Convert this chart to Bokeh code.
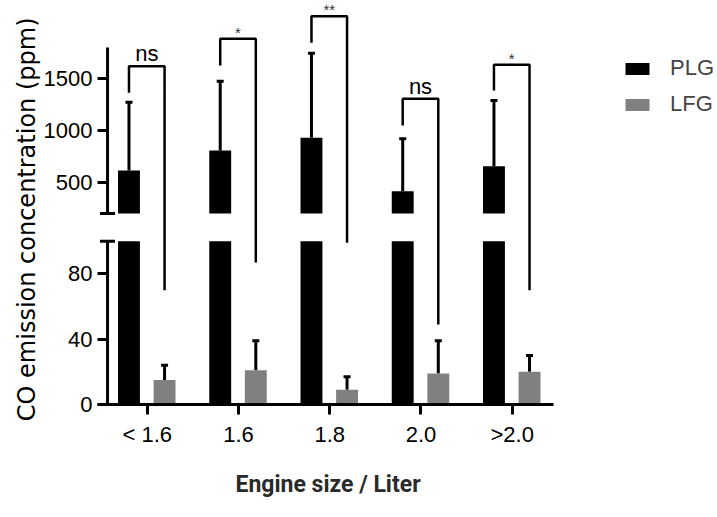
from bokeh.plotting import figure
from bokeh.models import (ColumnDataSource, Range1d, FixedTicker, CustomJSTickFormatter,
                          Legend, LegendItem, Whisker, TeeHead, Title)
from bokeh.embed import file_html
from bokeh.resources import INLINE

# ---------------- data ----------------
categories = ["< 1.6", "1.6", "1.8", "2.0", ">2.0"]
plg_mean = [615, 807, 930, 415, 656]
plg_sd = [658, 669, 816, 505, 634]
lfg_mean = [15, 21, 9, 19, 20]
lfg_sd = [9, 18, 8, 20, 10]
sig_labels = ["ns", "*", "**", "ns", "*"]
bracket_start = [1364, 1627, 1846, 1049, 1386]   # PLG side, upper-scale units
bracket_top = [1620, 1885, 2103, 1306, 1634]     # bracket height, upper-scale units
bracket_end = [70, 87, 99, 49, 70]               # LFG side, lower-scale units
lower_ticks = [0, 40, 80]
upper_ticks = [500, 1000, 1500]

# ---------------- broken axis definition ----------------
LOW_MAX = 100      # top of lower segment
UP_MIN = 200       # bottom of upper segment
UP_MAX = 1800      # top of upper segment
GAP = 17.0         # gap between segments (in lower-scale units)
K = 0.0635         # compression of upper segment relative to lower


def brk(v):
    return v if v <= LOW_MAX else LOW_MAX + GAP + (v - UP_MIN) * K


xs = list(range(len(categories)))
PLG_OFF, LFG_OFF, BAR_W = -0.2, 0.19, 0.24
X_START, X_AXIS_END, X_END = -0.545, 4.453, 6.25
YAXIS_X = -0.435

p = figure(width=717, height=517, output_backend="svg", toolbar_location=None,
           x_range=Range1d(X_START, X_END), y_range=Range1d(0, 246.2),
           min_border_left=97, min_border_right=0, min_border_top=2, min_border_bottom=113)
p.outline_line_color = None
p.grid.visible = False
p.background_fill_color = "white"
p.border_fill_color = "white"

# bars
plg_x = [x + PLG_OFF for x in xs]
lfg_x = [x + LFG_OFF for x in xs]
plg_low = p.vbar(x=plg_x, width=BAR_W, bottom=0, top=[min(m, LOW_MAX) for m in plg_mean],
                 fill_color="black", line_color=None)
p.vbar(x=plg_x, width=BAR_W, bottom=brk(UP_MIN), top=[brk(m) for m in plg_mean],
       fill_color="black", line_color=None)
lfg_r = p.vbar(x=lfg_x, width=BAR_W, bottom=0, top=lfg_mean,
               fill_color="#808080", line_color=None)

# error bars (upper only)
err_src = ColumnDataSource(dict(
    x=plg_x + lfg_x,
    lo=[brk(m) for m in plg_mean] + [brk(m) for m in lfg_mean],
    hi=[brk(m + s) for m, s in zip(plg_mean, plg_sd)] + [brk(m + s) for m, s in zip(lfg_mean, lfg_sd)],
))
p.add_layout(Whisker(source=err_src, base="x", lower="lo", upper="hi", dimension="height",
                     line_color="black", line_width=3, lower_head=None,
                     upper_head=TeeHead(size=7, line_width=3, line_color="black")))

# significance brackets
b_xs = [[a, a, b, b] for a, b in zip(plg_x, lfg_x)]
b_ys = [[brk(s), brk(t), brk(t), e] for s, t, e in zip(bracket_start, bracket_top, bracket_end)]
p.multi_line(xs=b_xs, ys=b_ys, line_color="black", line_width=2.5)

mid_x = [(a + b) / 2 for a, b in zip(plg_x, lfg_x)]
ns_i = [i for i, s in enumerate(sig_labels) if s == "ns"]
st_i = [i for i, s in enumerate(sig_labels) if s != "ns"]
p.text(x=[mid_x[i] for i in ns_i], y=[brk(bracket_top[i]) for i in ns_i],
       text=[sig_labels[i] for i in ns_i], text_align="center", text_baseline="bottom",
       y_offset=0, text_font_size="22px", text_font={"value": "Liberation Sans"}, text_color="black")
p.text(x=[mid_x[i] for i in st_i], y=[brk(bracket_top[i]) for i in st_i],
       text=[sig_labels[i] for i in st_i], text_align="center", text_baseline="bottom",
       y_offset=2, text_font_size="15px", text_font={"value": "Liberation Sans"}, text_color="#333333")

# y axis line in two pieces with break marks
p.segment(x0=[YAXIS_X, YAXIS_X], y0=[0, brk(UP_MIN)], x1=[YAXIS_X, YAXIS_X],
          y1=[LOW_MAX, brk(UP_MAX)], line_color="black", line_width=3)
p.scatter(x=[YAXIS_X, YAXIS_X], y=[LOW_MAX, brk(UP_MIN)], marker="dash", size=15,
          line_color="black", line_width=3)

# y axis ticks / labels
yax = p.yaxis[0]
yax.ticker = FixedTicker(ticks=[brk(t) for t in lower_ticks + upper_ticks])
yax.formatter = CustomJSTickFormatter(
    args=dict(lim=LOW_MAX, b=LOW_MAX + GAP, k=K, base=UP_MIN),
    code="return tick > lim ? String(Math.round((tick - b) / k + base)) : String(Math.round(tick));")
yax.axis_line_color = None
yax.major_tick_in = 10
yax.major_tick_out = 0
yax.major_tick_line_width = 3
yax.major_tick_line_color = "black"
yax.minor_tick_line_color = None
yax.major_label_standoff = 5
yax.major_label_text_font = "Liberation Sans"
yax.major_label_text_font_size = "22px"
yax.major_label_text_color = "black"

# x axis (line limited to the category region)
xax = p.xaxis[0]
xax.bounds = (X_START, X_AXIS_END)
xax.ticker = FixedTicker(ticks=xs)
xax.major_label_overrides = {i: c for i, c in zip(xs, categories)}
xax.axis_line_width = 3
xax.axis_line_color = "black"
xax.major_tick_in = 0
xax.major_tick_out = 10
xax.major_tick_line_width = 3
xax.major_tick_line_color = "black"
xax.minor_tick_line_color = None
xax.major_label_standoff = 7
xax.major_label_text_font = "Liberation Sans"
xax.major_label_text_font_size = "22px"
xax.major_label_text_color = "black"

# axis titles as side titles
p.add_layout(Title(text="CO emission concentration (ppm)", align="right", offset=15,
                   text_font="DejaVu Sans", text_font_size="24px", text_font_style="normal",
                   text_color="black", standoff=0), "left")
p.add_layout(Title(text="Engine size / Liter", align="left", offset=138,
                   text_font="Roboto", text_font_size="23px", text_font_style="bold",
                   text_color="#2a2a2a", standoff=38), "below")

# legend
legend = Legend(items=[LegendItem(label="PLG", renderers=[plg_low]),
                       LegendItem(label="LFG", renderers=[lfg_r])],
                location=(525, 287), glyph_width=30, glyph_height=15, label_height=24,
                label_standoff=18, spacing=10, padding=0, margin=0,
                border_line_color=None, background_fill_alpha=0,
                label_text_font="Liberation Sans", label_text_font_size="22px")
p.add_layout(legend, "center")

open("out.html", "w").write(file_html(p, INLINE))
